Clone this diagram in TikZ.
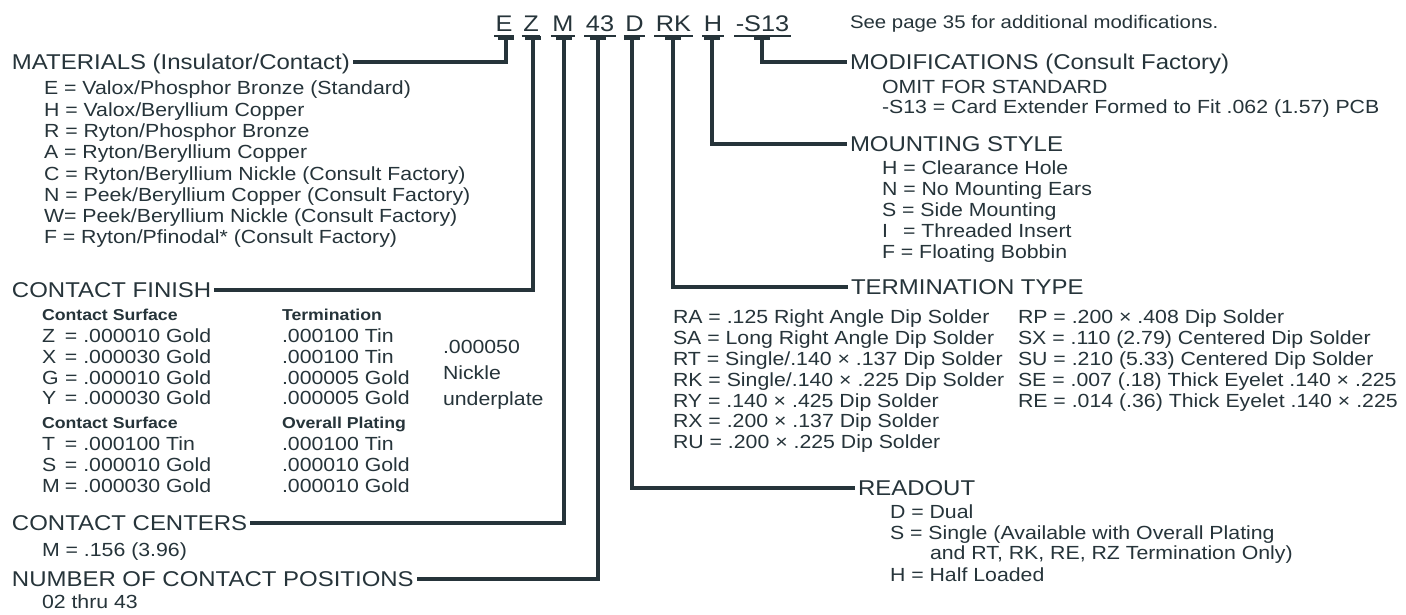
\documentclass[tikz,border=0pt]{standalone}
\usepackage{fontspec}
\setmainfont{Liberation Sans}[FakeStretch=1.12]
\definecolor{ink}{RGB}{38,52,58}
\tikzset{
  txt/.style={anchor=west, inner sep=0pt, outer sep=0pt, text=ink, text depth=0pt},
  body/.style={txt, font=\fontsize{19}{21}\selectfont, text height=13.6pt},
  head/.style={txt, font=\fontsize{21.4}{24}\selectfont, text height=15.3pt},
  sub/.style={txt, font=\bfseries\fontsize{15.8}{18}\selectfont, text height=11.3pt},
  note/.style={txt, font=\fontsize{18.2}{20}\selectfont, text height=13pt},
  code/.style={anchor=center, inner sep=0pt, outer sep=0pt, text=ink, text depth=0pt,
    font=\fontsize{22.6}{25}\selectfont, text height=16.2pt},
  conn/.style={draw=ink, line width=4.6pt},
  uline/.style={draw=ink, line width=1.6pt},
  tcap/.style={fill=ink},
}
\begin{document}
\begin{tikzpicture}[x=1pt,y=-1pt]
\fill[white] (0,0) rectangle (1406,615);
\useasboundingbox (0,0) rectangle (1406,615);

% ---- part number code ----
\node[code] (cE)   at (504,23.5) {E};
\node[code] (cZ)   at (531,23.5) {Z};
\node[code] (cM)   at (563,23.5) {M};
\node[code] (c43)  at (600,23.5) {43};
\node[code] (cD)   at (634.5,23.5) {D};
\node[code] (cRK)  at (673.5,23.5) {RK};
\node[code] (cH)   at (713,23.5) {H};
\node[code] (cS13) at (762.5,23.5) {-S13};
\foreach \c in {cE,cZ,cM,c43,cD,cRK,cH,cS13}
  \draw[uline] ([xshift=-1.5pt,yshift=-4.5pt]\c.south west) -- ([xshift=1.5pt,yshift=-4.5pt]\c.south east);

\node[note] (see) at (850,22) {See page 35 for additional modifications.};

% ---- left column ----
\node[head] (hMat) at (12,62) {MATERIALS (Insulator/Contact)};
\foreach \t [count=\i from 0] in {
  {E = Valox/Phosphor Bronze (Standard)},
  {H = Valox/Beryllium Copper},
  {R = Ryton/Phosphor Bronze},
  {A = Ryton/Beryllium Copper},
  {C = Ryton/Beryllium Nickle (Consult Factory)},
  {N = Peek/Beryllium Copper (Consult Factory)},
  {W= Peek/Beryllium Nickle (Consult Factory)},
  {F = Ryton/Pfinodal* (Consult Factory)}}
  \node[body] (mat\i) at (44,{88+21.3*\i}) {\t};

\node[head] (hFin) at (12,290) {CONTACT FINISH};
\node[sub] (csA) at (42,315) {Contact Surface};
\node[sub] (term) at (282,315) {Termination};
\foreach \a/\b [count=\i from 0] in {Z/{.000010 Gold}, X/{.000030 Gold}, G/{.000010 Gold}, Y/{.000030 Gold}}
  \node[body] (fa\i) at (42,{336+20.7*\i}) {\makebox[23pt][l]{\a}= \b};
\foreach \b [count=\i from 0] in {{.000100 Tin},{.000100 Tin},{.000005 Gold},{.000005 Gold}}
  \node[body] (fb\i) at (282,{336+20.7*\i}) {\b};
\node[body] (nk1) at (443,347) {.000050};
\node[body] (nk2) at (443,373) {Nickle};
\node[body] (nk3) at (443,399) {underplate};
\node[sub] (csB) at (42,423) {Contact Surface};
\node[sub] (ovp) at (282,423) {Overall Plating};
\foreach \a/\b [count=\i from 0] in {T/{.000100 Tin}, S/{.000010 Gold}, M/{.000030 Gold}}
  \node[body] (fc\i) at (42,{444+21*\i}) {\makebox[23pt][l]{\a}= \b};
\foreach \b [count=\i from 0] in {{.000100 Tin},{.000010 Gold},{.000010 Gold}}
  \node[body] (fd\i) at (282,{444+21*\i}) {\b};

\node[head] (hCen) at (12,523) {CONTACT CENTERS};
\node[body] (cen1) at (42,550) {M = .156 (3.96)};
\node[head] (hNum) at (12,579) {NUMBER OF CONTACT POSITIONS};
\node[body] (num1) at (42,602) {02 thru 43};

% ---- right column ----
\node[head] (hMod) at (850,62) {MODIFICATIONS (Consult Factory)};
\node[body] (mod1) at (882,87) {OMIT FOR STANDARD};
\node[body] (mod2) at (882,107) {-S13 = Card Extender Formed to Fit .062 (1.57) PCB};

\node[head] (hMnt) at (850,144) {MOUNTING STYLE};
\foreach \t [count=\i from 0] in {
  {H = Clearance Hole},
  {N = No Mounting Ears},
  {S = Side Mounting},
  {\makebox[21pt][l]{I}= Threaded Insert},
  {F = Floating Bobbin}}
  \node[body] (mnt\i) at (882,{168+21*\i}) {\t};

\node[head] (hTer) at (851,287) {TERMINATION TYPE};
\foreach \t [count=\i from 0] in {
  {RA = .125 Right Angle Dip Solder},
  {SA = Long Right Angle Dip Solder},
  {RT = Single/.140 × .137 Dip Solder},
  {RK = Single/.140 × .225 Dip Solder},
  {RY = .140 × .425 Dip Solder},
  {RX = .200 × .137 Dip Solder},
  {RU = .200 × .225 Dip Solder}}
  \node[body] (tl\i) at (673,{317+20.8*\i}) {\t};
\foreach \t [count=\i from 0] in {
  {RP = .200 × .408 Dip Solder},
  {SX = .110 (2.79) Centered Dip Solder},
  {SU = .210 (5.33) Centered Dip Solder},
  {SE = .007 (.18) Thick Eyelet .140 × .225},
  {RE = .014 (.36) Thick Eyelet .140 × .225}}
  \node[body] (tr\i) at (1018,{317+20.8*\i}) {\t};

\node[head] (hRead) at (858,488) {READOUT};
\node[body] (rd1) at (890,512) {D = Dual};
\node[body] (rd2) at (890,533) {S = Single (Available with Overall Plating};
\node[body] (rd3) at (930,553) {and RT, RK, RE, RZ Termination Only)};
\node[body] (rd4) at (890,575) {H = Half Loaded};

% ---- connectors ----
\coordinate (sE)   at (506,37);
\coordinate (sZ)   at (533,37);
\coordinate (sM)   at (564,37);
\coordinate (s43)  at (598,37);
\coordinate (sD)   at (632,37);
\coordinate (sRK)  at (673,37);
\coordinate (sH)   at (712,37);
\coordinate (sS13) at (762,37);
\foreach \s in {sE,sZ,sM,s43,sD,sRK,sH,sS13}
  \fill[tcap] ([xshift=-8pt,yshift=0.5pt]\s) rectangle ([xshift=8pt,yshift=-3pt]\s);

\draw[conn] (sE)   |- ([xshift=3pt]hMat.east);
\draw[conn] (sZ)   |- ([xshift=3pt]hFin.east);
\draw[conn] (sM)   |- ([xshift=3pt]hCen.east);
\draw[conn] (s43)  |- ([xshift=3pt]hNum.east);
\draw[conn] (sD)   |- ([xshift=-3pt]hRead.west);
\draw[conn] (sRK)  |- ([xshift=-3pt]hTer.west);
\draw[conn] (sH)   |- ([xshift=-3pt]hMnt.west);
\draw[conn] (sS13) |- ([xshift=-3pt]hMod.west);
\end{tikzpicture}
\end{document}
